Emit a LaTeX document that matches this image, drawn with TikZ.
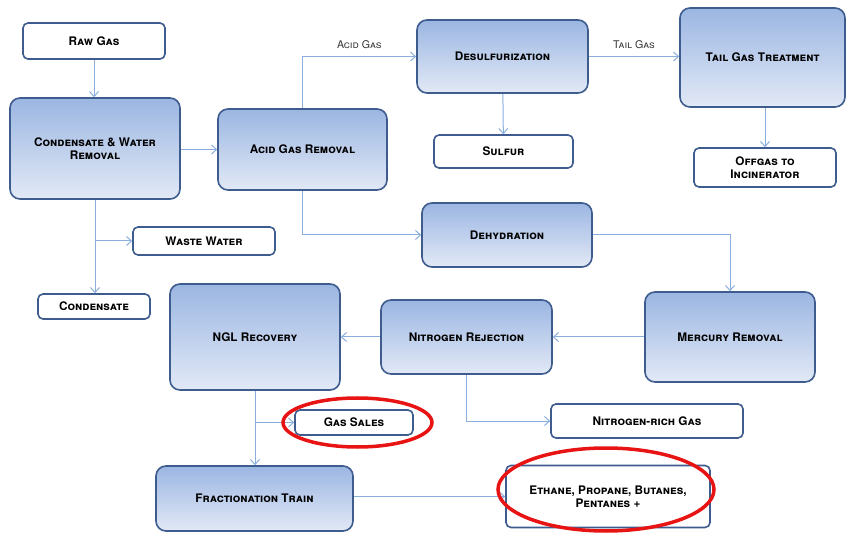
\documentclass[tikz,border=0pt]{standalone}
\usepackage{fontspec}
\setmainfont{TeX Gyre Heros}
\usepackage{tikz}
\usetikzlibrary{positioning, arrows.meta, calc}

\definecolor{boxtop}{RGB}{155,182,226}
\definecolor{boxbot}{RGB}{226,233,246}
\definecolor{boxline}{RGB}{62,92,142}
\definecolor{flow}{RGB}{138,174,222}
\definecolor{mark}{RGB}{232,20,20}

\begin{document}
\begin{tikzpicture}[x=1pt, y=-1pt, font=\bfseries\scshape\fontsize{11.8}{13}\selectfont,
    unit/.style={rectangle, draw=boxline, line width=1.6pt, rounded corners=10pt,
        top color=boxtop, bottom color=boxbot, align=center, inner sep=2pt},
    product/.style={rectangle, draw=boxline, line width=1.6pt, rounded corners=5pt,
        fill=white, align=center, inner sep=2pt},
    flowline/.style={draw=flow, line width=1pt, -{Straight Barb[length=5pt, width=9pt]}},
    streamlabel/.style={font=\scshape\fontsize{10.6}{12}\selectfont, text=black!80},
    circled/.style={draw=mark, line width=3.5pt}]
    \useasboundingbox (0,0) rectangle (846,534);

    % Process units
    \node[unit, minimum width=170pt, minimum height=101pt] (cwr)  at (95,148.5) {Condensate \& Water\\Removal};
    \node[unit, minimum width=169pt, minimum height=81pt]  (agr)  at (302.5,149.5) {Acid Gas Removal};
    \node[unit, minimum width=171pt, minimum height=73pt]  (desulf) at (502.5,56.5) {Desulfurization};
    \node[unit, minimum width=165pt, minimum height=99pt]  (tgt)  at (762.5,57.5) {Tail Gas Treatment};
    \node[unit, minimum width=170pt, minimum height=64pt]  (dehyd) at (507,235) {Dehydration};
    \node[unit, minimum width=170pt, minimum height=90pt]  (hg)   at (730,337) {Mercury Removal};
    \node[unit, minimum width=171pt, minimum height=74pt]  (nrej) at (466.5,337) {Nitrogen Rejection};
    \node[unit, minimum width=170pt, minimum height=106pt] (ngl)  at (255,337) {NGL Recovery};
    \node[unit, minimum width=197pt, minimum height=65pt]  (frac) at (254.5,498.5) {Fractionation Train};

    % Feeds and products
    \node[product, minimum width=142pt, minimum height=36pt] (raw)    at (94,41) {Raw Gas};
    \node[product, minimum width=139pt, minimum height=33pt] (sulfur) at (503.5,151.5) {Sulfur};
    \node[product, minimum width=142pt, minimum height=39pt] (offgas) at (765,167.5) {Offgas to\\Incinerator};
    \node[product, minimum width=142pt, minimum height=28pt] (waste)  at (204,241) {Waste Water};
    \node[product, minimum width=112pt, minimum height=25pt] (cond)   at (94,306.5) {Condensate};
    \node[product, minimum width=192pt, minimum height=34pt] (nrich)  at (647,421) {Nitrogen-rich Gas};
    \node[product, minimum width=118pt, minimum height=25pt] (sales)  at (354,422.5) {Gas Sales};
    \node[product, minimum width=204pt, minimum height=62pt] (ngls)   at (608,496.5) {Ethane, Propane, Butanes,\\Pentanes +};

    % Flows
    \draw[flowline] (raw) -- (raw |- cwr.north);
    \draw[flowline] (cwr.east |- agr.west) -- (agr.west);
    \draw[flowline] (agr.north) |- node[streamlabel, pos=0.75, above=4pt] {Acid Gas} (desulf.west);
    \draw[flowline] (desulf.east) -- node[streamlabel, above=4pt] {Tail Gas} (desulf.east -| tgt.west);
    \draw[flowline] (desulf) -- (sulfur);
    \draw[flowline] (tgt.south -| offgas) -- (offgas);
    \draw[flowline] (agr.south) |- (dehyd.west);
    \draw[flowline] (dehyd.east) -| (hg.north);
    \draw[flowline] (hg) -- (nrej);
    \draw[flowline] (nrej) -- (ngl);
    \draw[flowline] (nrej.south) |- (nrich.west);

    % Condensate and water split
    \coordinate (wsplit) at (cwr.south |- waste.west);
    \draw[flowline] (cwr.south) -- (cwr.south |- cond.north);
    \draw[flowline] (wsplit) -- (waste.west);

    % NGL split
    \coordinate (gsplit) at (ngl.south |- sales.west);
    \draw[flowline] (ngl.south) -- (ngl.south |- frac.north);
    \draw[flowline] (gsplit) -- (sales.west);
    \draw[flowline] (frac.east |- ngls.west) -- (ngls.west);

    % Highlights
    \draw[circled] (357.5,422.5) ellipse [x radius=74.5, y radius=24.5];
    \draw[circled] (606,489.5) ellipse [x radius=108, y radius=41.5];
\end{tikzpicture}
\end{document}
